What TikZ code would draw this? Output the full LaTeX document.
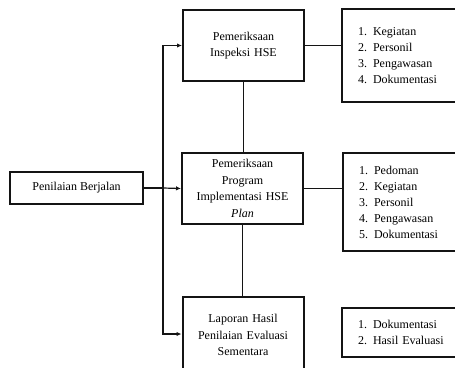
\documentclass[tikz,border=0pt]{standalone}
\usepackage{fontspec}
\setmainfont{Liberation Serif}
\usepackage{tikz}
\usetikzlibrary{arrows.meta, positioning, calc}
\definecolor{mydark}{RGB}{20,20,20}
\newcommand{\numitem}[2]{\makebox[15pt][l]{#1.}#2}
\tikzset{
  block/.style={rectangle, draw=mydark, fill=white,
    text width=115pt, align=center, minimum height=71pt,
    inner sep=3pt, line width=2pt,
    font=\fontsize{12}{16.5}\selectfont},
  startblock/.style={rectangle, draw=mydark, fill=white,
    minimum width=133pt, minimum height=32pt,
    inner sep=3pt, line width=2pt,
    font=\fontsize{12}{16.5}\selectfont},
  listbox/.style={rectangle, draw=mydark, fill=white,
    text width=110pt, align=left, anchor=west,
    inner xsep=16pt, inner ysep=3pt, line width=2pt,
    font=\fontsize{12}{16}\selectfont},
  arrow/.style={-{Latex[length=5pt,width=4.5pt]}, line width=1.2pt, color=mydark},
  line/.style={line width=1.2pt, color=mydark}
}
\begin{document}
\begin{tikzpicture}[x=1pt, y=-1pt]
  \useasboundingbox (0,0) rectangle (455,367);

  % Start Node
  \node[startblock] (pb) at (76.5,188) {Penilaian Berjalan};

  % Check Nodes
  \node[block] (pi) at (243.5,45.5) {Pemeriksaan\\Inspeksi HSE};
  \node[block] (pp) at (242.5,188.5) {Pemeriksaan\\Program\\Implementasi HSE\\\textit{Plan}};
  \node[block, minimum height=76pt] (lp) at (243,335) {Laporan Hasil\\Penilaian Evaluasi\\Sementara\\[5pt]};

  % List Nodes
  \node[listbox, minimum height=93pt] (l1) at (341,55.5)
    {\numitem{1}{Kegiatan}\\\numitem{2}{Personil}\\\numitem{3}{Pengawasan}\\\numitem{4}{Dokumentasi}};
  \node[listbox, minimum height=98pt] (l2) at (342,202)
    {\numitem{1}{Pedoman}\\\numitem{2}{Kegiatan}\\\numitem{3}{Personil}\\\numitem{4}{Pengawasan}\\\numitem{5}{Dokumentasi}};
  \node[listbox, minimum height=49pt] (l3) at (341,332.5)
    {\numitem{1}{Dokumentasi}\\\numitem{2}{Hasil Evaluasi}};

  % Connect start node to the check nodes
  \coordinate (jn) at (163,188);
  \draw[line] (pb.east) -- (jn);
  \draw[arrow] (jn) -- (pp.west);
  \draw[arrow] (jn) |- (pi.west);
  \draw[arrow] (jn) |- ($(lp.west)+(0,-1)$);

  % Connect the check nodes to one another
  \draw[line] (pi.south) -- (pi.south |- pp.north);
  \draw[line] (pp.south) -- (pp.south |- lp.north);

  % Connect the check nodes to their lists
  \draw[line] (pi.east) -- (pi.east -| l1.west);
  \draw[line] (pp.east) -- (pp.east -| l2.west);
  \draw[line] ($(lp.east)+(0,-3)$) -- ($(lp.east)+(0,-3)$ -| l3.west);
\end{tikzpicture}
\end{document}
